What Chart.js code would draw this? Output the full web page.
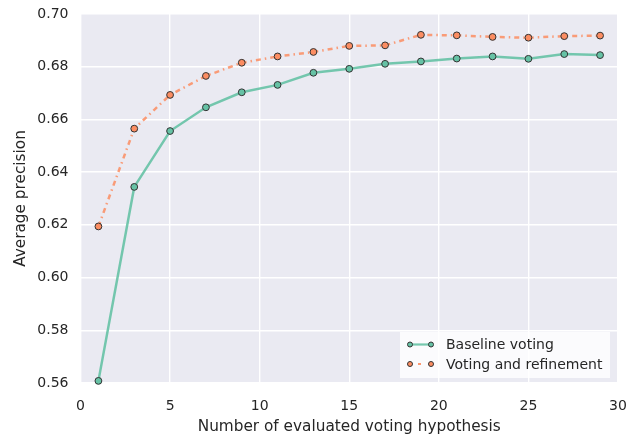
<!DOCTYPE html>
<html>
<head>
<meta charset="utf-8">
<script src="https://cdn.jsdelivr.net/npm/chart.js@4/dist/chart.umd.min.js"></script>
<style>
html,body{margin:0;padding:0;background:#fff;}
#wrap{width:644px;height:441px;}
</style>
</head>
<body>
<div id="wrap"><canvas id="c" width="644" height="441"></canvas></div>
<script>
const hypotheses = [1,3,5,7,9,11,13,15,17,19,21,23,25,27,29];
const baselineVoting = [0.5608,0.6344,0.6556,0.6646,0.6703,0.6731,0.6777,0.6792,0.6811,0.6820,0.6831,0.6839,0.6830,0.6848,0.6844];
const votingRefinement = [0.6194,0.6565,0.6693,0.6765,0.6815,0.6839,0.6856,0.6879,0.6881,0.6921,0.6919,0.6913,0.6910,0.6916,0.6918];
const seriesNames = ["Baseline voting","Voting and refinement"];
const xTicks = [0,5,10,15,20,25,30];
const yTicks = [0.56,0.58,0.60,0.62,0.64,0.66,0.68,0.70];

const FONT = "'DejaVu Sans', sans-serif";
const green = '#66c2a5', orange = '#fc8d62';

const bgPlugin = {
  id:'bg',
  beforeDraw(chart){
    const {ctx, chartArea:a} = chart;
    ctx.save();
    ctx.fillStyle = '#eaeaf2';
    ctx.fillRect(a.left, a.top, a.right-a.left, a.bottom-a.top);
    ctx.restore();
  }
};

const legendPlugin = {
  id:'customLegend',
  afterDatasetsDraw(chart){
    const {ctx, chartArea:a} = chart;
    const w = 210, h = 46;
    const x0 = a.right - w - 8, y0 = a.bottom - h - 5;
    ctx.save();
    ctx.fillStyle = 'rgba(255,255,255,0.8)';
    ctx.fillRect(x0, y0, w, h);
    ctx.font = "14px " + FONT;
    ctx.textBaseline = 'middle';
    const items = [
      {name: seriesNames[0], color: green, dash: []},
      {name: seriesNames[1], color: orange, dash: [0,8,3,20]}
    ];
    items.forEach((it, i) => {
      const cy = y0 + 12.5 + i*19.5;
      const lx1 = x0 + 10, lx2 = x0 + 31;
      ctx.strokeStyle = it.color;
      ctx.globalAlpha = 0.9;
      ctx.lineWidth = 2.2;
      ctx.setLineDash(it.dash);
      ctx.beginPath(); ctx.moveTo(lx1, cy); ctx.lineTo(lx2, cy); ctx.stroke();
      ctx.setLineDash([]);
      ctx.globalAlpha = 1;
      [lx1, lx2].forEach(px => {
        ctx.beginPath(); ctx.arc(px, cy, 2.5, 0, Math.PI*2);
        ctx.fillStyle = it.color; ctx.fill();
        ctx.lineWidth = 1; ctx.strokeStyle = '#333'; ctx.stroke();
      });
      ctx.fillStyle = '#262626';
      ctx.fillText(it.name, x0 + 46, cy + 1);
    });
    ctx.restore();
  }
};

new Chart(document.getElementById('c'), {
  type: 'line',
  data: {
    datasets: [
      {
        label: seriesNames[0],
        data: hypotheses.map((x,i)=>({x, y: baselineVoting[i]})),
        borderColor: 'rgba(102,194,165,0.9)',
        borderWidth: 2.5,
        pointBackgroundColor: green,
        pointBorderColor: '#333',
        pointBorderWidth: 1,
        pointRadius: 3.4,
        tension: 0,
        clip: false
      },
      {
        label: seriesNames[1],
        data: hypotheses.map((x,i)=>({x, y: votingRefinement[i]})),
        borderColor: 'rgba(252,141,98,0.85)',
        borderWidth: 2.5,
        borderDash: [5,4,1.5,4],
        pointBackgroundColor: orange,
        pointBorderColor: '#333',
        pointBorderWidth: 1,
        pointRadius: 3.4,
        tension: 0,
        clip: false
      }
    ]
  },
  options: {
    responsive: false,
    animation: false,
    layout: { padding: { top: 14, right: 26, left: 0, bottom: 0 } },
    plugins: { legend: { display: false }, tooltip: { enabled: false } },
    scales: {
      x: {
        type: 'linear',
        min: 0, max: 30,
        afterBuildTicks(axis){ axis.ticks = xTicks.map(v=>({value:v})); },
        afterFit(axis){ axis.height = 58; axis.paddingLeft = 0; axis.paddingRight = 0; },
        grid: { color: '#ffffff', lineWidth: 1.4, drawTicks: false },
        border: { display: false },
        ticks: { color: '#262626', font: { family: FONT, size: 14 }, padding: 15 },
        title: { display: true, text: 'Number of evaluated voting hypothesis', color: '#262626', font: { family: FONT, size: 15.3 }, padding: { top: 5, bottom: 5 } }
      },
      y: {
        min: 0.56, max: 0.70,
        afterBuildTicks(axis){ axis.ticks = yTicks.map(v=>({value:v})); },
        afterFit(axis){ axis.width = 80.5; axis.paddingTop = 0; axis.paddingBottom = 0; },
        grid: { color: '#ffffff', lineWidth: 1.4, drawTicks: false },
        border: { display: false },
        ticks: { color: '#262626', font: { family: FONT, size: 14 }, padding: 12, callback: v => Number(v).toFixed(2) },
        title: { display: true, text: 'Average precision', color: '#262626', font: { family: FONT, size: 15.3 }, padding: { top: 12, bottom: 12 } }
      }
    }
  },
  plugins: [bgPlugin, legendPlugin]
});
</script>
</body>
</html>
